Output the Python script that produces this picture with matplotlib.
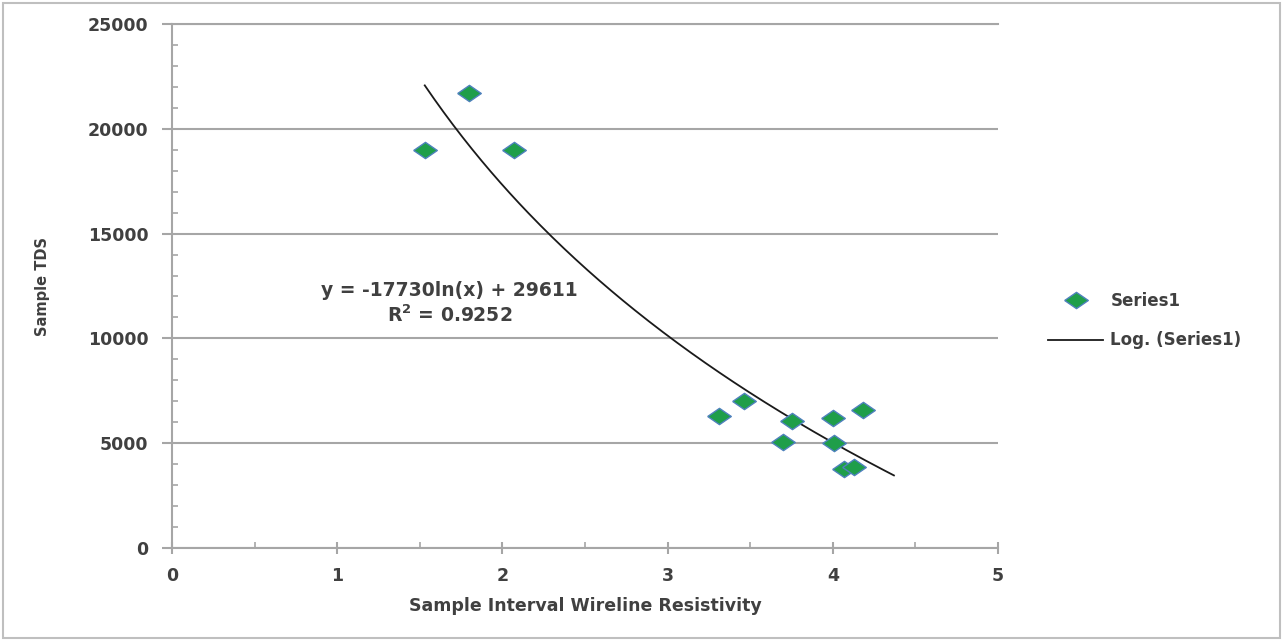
import numpy as np
from matplotlib import pyplot as plt
from matplotlib.patches import Rectangle

# data
resistivity = [1.53, 1.80, 2.07, 3.31, 3.46, 3.70, 3.75, 4.00, 4.01, 4.07, 4.13, 4.18]
tds = [19000, 21700, 19000, 6300, 7000, 5050, 6080, 6200, 5000, 3780, 3880, 6600]

# trend line from the equation printed on the chart
coef_a = -17730
coef_b = 29611
r_squared = 0.9252
fit_range = (1.53, 4.37)

plt.rcParams['font.family'] = ['DejaVu Sans']
plt.rcParams['font.weight'] = 'bold'
label_color = '#404040'

fig = plt.figure(figsize=(12.83, 6.41), dpi=100)
ax = fig.add_axes([172 / 1283, 1 - 548 / 641, (998 - 172) / 1283, (548 - 24) / 641])

# diamond marker, a bit wider than tall
diamond = [(-1.45, 0), (0, 1), (1.45, 0), (0, -1), (-1.45, 0)]
ax.plot(resistivity, tds, linestyle='none', marker=diamond, markersize=17,
        markerfacecolor='#1f9e4a', markeredgecolor='#4f81bd', markeredgewidth=1.0,
        label='Series1', zorder=3)

xs = np.linspace(fit_range[0], fit_range[1], 200)
ax.plot(xs, coef_a * np.log(xs) + coef_b, color='#1a1a1a', linewidth=1.3,
        label='Log. (Series1)', zorder=2)

ax.text(1.68, 11650, 'y = -17730ln(x) + 29611\nR$^2$ = %.4f' % r_squared,
        ha='center', va='center', fontsize=13.5, color=label_color, linespacing=1.25)

ax.set_xlim(0, 5)
ax.set_ylim(0, 25000)
ax.set_xticks([0, 1, 2, 3, 4, 5])
ax.set_xticks([0.5, 1.5, 2.5, 3.5, 4.5], minor=True)
ax.set_yticks(np.arange(0, 25001, 5000))
ax.set_yticks(np.arange(0, 25001, 1000), minor=True)

grid_c = '#a6a6a6'
ax.yaxis.grid(True, which='major', color=grid_c, linewidth=1.5, zorder=0)
ax.set_axisbelow(True)
for side in ['top', 'right']:
    ax.spines[side].set_visible(False)
for side in ['left', 'bottom']:
    ax.spines[side].set_color(grid_c)
    ax.spines[side].set_linewidth(1.5)
# top gridline as frame
ax.axhline(25000, color=grid_c, linewidth=1.5, clip_on=False, zorder=0)

ax.tick_params(axis='y', which='major', direction='out', length=7, width=1.5,
               color=grid_c, pad=10, labelsize=12.5, labelcolor=label_color)
ax.tick_params(axis='y', which='minor', direction='in', length=4, width=1.2, color=grid_c)
ax.tick_params(axis='x', which='major', direction='inout', length=9, width=1.5,
               color=grid_c, pad=9, labelsize=12.5, labelcolor=label_color)
ax.tick_params(axis='x', which='minor', direction='in', length=4, width=1.2, color=grid_c)

ax.set_xlabel('Sample Interval Wireline Resistivity', fontsize=12.5, color=label_color,
              fontweight='bold', va='center')
ax.xaxis.set_label_coords(0.5, -0.11)
ax.set_ylabel('Sample TDS', fontsize=10.5, color=label_color, fontweight='bold',
              va='center')
ax.yaxis.set_label_coords(-0.157, 0.5)

fig.legend(loc='center left', bbox_to_anchor=(1033 / 1283, 0.5), frameon=False,
           fontsize=12, labelcolor=label_color, handlelength=3.3, labelspacing=1.3,
           handletextpad=0.45)

fig.patches.append(Rectangle((0.002, 0.004), 0.996, 0.992, transform=fig.transFigure,
                             fill=False, edgecolor='#bfbfbf', linewidth=1.5))

fig.savefig('out.png', dpi=100)
